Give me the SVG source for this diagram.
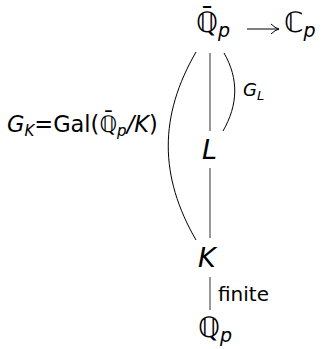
<svg xmlns="http://www.w3.org/2000/svg" width="326" height="349" viewBox="0 0 326 349">
<style>
.bb{font-family:"DejaVu Sans",sans-serif;font-size:28px;fill:#000}
.it{font-family:"DejaVu Sans",sans-serif;font-style:italic;fill:#000}
.rm{font-family:"DejaVu Sans",sans-serif;fill:#000}
.edge{stroke:#444;stroke-width:1.1;fill:none}
.curve{stroke:#000;stroke-width:1;fill:none}
</style>
<defs>
<marker id="arr" markerWidth="10" markerHeight="12" refX="9" refY="6" orient="auto" markerUnits="userSpaceOnUse">
<path d="M1,1 Q5,5 9,6 Q5,7 1,11" fill="none" stroke="#000" stroke-width="1"/>
</marker>
</defs>
<g id="edges">
<line class="edge" x1="210" y1="53" x2="210" y2="131"/>
<line class="edge" x1="210" y1="168" x2="210" y2="238"/>
<line class="edge" x1="210" y1="277" x2="210" y2="310"/>
<path class="curve" d="M196,52 C159,116 159,176 196,240"/>
<path class="curve" d="M224,53 C239,79 238,105 223,131"/>
<line x1="247" y1="29" x2="279" y2="29" stroke="#000" stroke-width="1" marker-end="url(#arr)"/>
<text class="it" x="243" y="96" font-size="18">G<tspan font-size="13" dy="4">L</tspan></text>
<text class="rm" x="7" y="132" font-size="22.5"><tspan class="it">G</tspan><tspan class="it" font-size="15" dy="4">K</tspan><tspan dy="-4">=Gal(ℚ̄</tspan><tspan class="it" font-size="15" dy="4">p</tspan><tspan dy="-4" class="it">/K</tspan>)</text>
<text class="rm" x="218" y="301" font-size="20">finite</text>
</g>
<g id="Qbar">
<text class="bb" x="196" y="32">ℚ̄<tspan class="it" font-size="19" dy="5">p</tspan></text>
</g>
<g id="Cp">
<text class="bb" x="284" y="32">ℂ<tspan class="it" font-size="19" dy="5">p</tspan></text>
</g>
<g id="L">
<text class="it" x="202" y="159" font-size="27">L</text>
</g>
<g id="K">
<text class="it" x="198" y="267" font-size="27">K</text>
</g>
<g id="Qp">
<text class="bb" x="198" y="337">ℚ<tspan class="it" font-size="19" dy="5">p</tspan></text>
</g>
</svg>
